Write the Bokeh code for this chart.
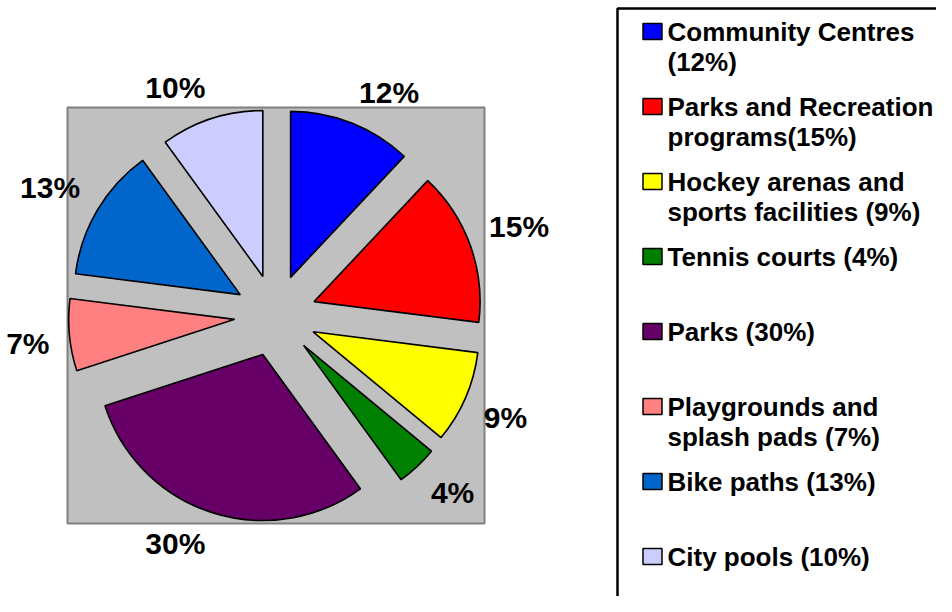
import numpy as np
from bokeh.plotting import figure
from bokeh.models import Range1d, ColumnDataSource
from bokeh.core.properties import value
from bokeh.embed import file_html
from bokeh.resources import INLINE

# ---- data ----
categories = ["Community Centres", "Parks and Recreation programs",
              "Hockey arenas and sports facilities", "Tennis courts", "Parks",
              "Playgrounds and splash pads", "Bike paths", "City pools"]
values = [12, 15, 9, 4, 30, 7, 13, 10]
pct_labels = ["12%", "15%", "9%", "4%", "30%", "7%", "13%", "10%"]
legend_lines = [["Community Centres", "(12%)"],
                ["Parks and Recreation", "programs(15%)"],
                ["Hockey arenas and", "sports facilities (9%)"],
                ["Tennis courts (4%)"],
                ["Parks (30%)"],
                ["Playgrounds and", "splash pads (7%)"],
                ["Bike paths (13%)"],
                ["City pools (10%)"]]
colors = ["#0000FF", "#FF0000", "#FFFF00", "#008000", "#660066",
          "#FF8080", "#0066CC", "#CCCCFF"]

# ---- layout ----
W, H = 936, 596
FONT = "Liberation Sans"
LABEL_SIZE = 30
cx, cy = 275, 281          # pie centre
R = 166                    # pie radius
EXPLODE = 41               # explosion distance
LABEL_R = 227

p = figure(width=W, height=H, output_backend="svg", toolbar_location=None,
           x_range=Range1d(0, W), y_range=Range1d(0, H), min_border=0)
p.axis.visible = False
p.grid.visible = False
p.outline_line_color = None
p.background_fill_color = "white"
p.border_fill_color = "white"

# plot area
p.quad(left=67, right=484, bottom=73, top=489, fill_color="#C0C0C0",
       line_color="#808080", line_width=2)

vals = np.array(values, dtype=float)
frac = vals / vals.sum()
cum_end = np.cumsum(frac)
cum_start = cum_end - frac
mid = (cum_start + cum_end) / 2
start_a = np.pi / 2 - 2 * np.pi * cum_start
end_a = np.pi / 2 - 2 * np.pi * cum_end
mid_a = np.pi / 2 - 2 * np.pi * mid
ux, uy = np.cos(mid_a), np.sin(mid_a)

src = ColumnDataSource(dict(x=cx + EXPLODE * ux, y=cy + EXPLODE * uy,
                            s=start_a, e=end_a, c=colors))
p.wedge(x="x", y="y", radius=R, start_angle="s", end_angle="e",
        direction="clock", fill_color="c", line_color="black",
        line_width=1.6, source=src)

# percentage labels: box corner nearest the pie sits on the label circle
lw = np.array([(0.556 * (len(t) - 1) + 0.889) * LABEL_SIZE for t in pct_labels])
lh = 24.0
lx = cx + LABEL_R * ux + lw / 2 * np.clip(6 * ux, -1, 1)
ly = cy + LABEL_R * uy + lh / 2 * np.clip(6 * uy, -1, 1)
p.text(x=lx, y=ly, text=pct_labels, text_align="center",
       text_baseline="middle", text_font=value(FONT),
       text_font_style="bold", text_font_size=f"{LABEL_SIZE}px",
       text_color="black")

# legend box
p.quad(left=617, right=W + 30, bottom=-30, top=588, fill_color=None,
       line_color="black", line_width=2.5)

top_y = 565
step = 75
line_gap = 30
tx, ty, tt = [], [], []
sq_y = []
for i, lines in enumerate(legend_lines):
    y0 = top_y - i * step
    sq_y.append(y0)
    for j, t in enumerate(lines):
        tx.append(667)
        ty.append(y0 - j * line_gap)
        tt.append(t)
p.rect(x=[652] * len(colors), y=sq_y, width=19, height=16, fill_color=colors,
       line_color="black", line_width=1.5)
p.text(x=tx, y=ty, text=tt, text_align="left", text_baseline="middle",
       text_font=value(FONT), text_font_style="bold", text_font_size="26px",
       text_color="black")

open("out.html", "w").write(file_html(p, INLINE))
